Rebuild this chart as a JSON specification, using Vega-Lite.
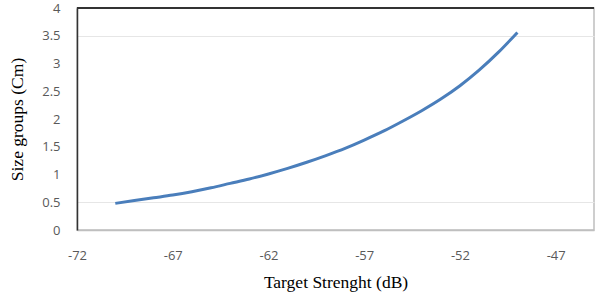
{
  "$schema": "https://vega.github.io/schema/vega-lite/v6.json",
  "width": 517,
  "height": 222,
  "autosize": {"type": "none"},
  "padding": {"left": 77, "top": 8, "right": 6, "bottom": 67},
  "background": "white",
  "config": {
    "view": {"stroke": "#bfbfbf", "strokeWidth": 1.5}
  },
  "data": {
    "values": [
      {"ts": -70, "size": 0.48},
      {"ts": -69, "size": 0.53},
      {"ts": -68, "size": 0.58},
      {"ts": -67, "size": 0.63},
      {"ts": -66, "size": 0.69},
      {"ts": -65, "size": 0.76},
      {"ts": -64, "size": 0.84},
      {"ts": -63, "size": 0.92},
      {"ts": -62, "size": 1.01},
      {"ts": -61, "size": 1.11},
      {"ts": -60, "size": 1.22},
      {"ts": -59, "size": 1.34},
      {"ts": -58, "size": 1.47},
      {"ts": -57, "size": 1.62},
      {"ts": -56, "size": 1.78},
      {"ts": -55, "size": 1.96},
      {"ts": -54, "size": 2.15},
      {"ts": -53, "size": 2.36},
      {"ts": -52, "size": 2.60},
      {"ts": -51, "size": 2.88},
      {"ts": -50, "size": 3.20},
      {"ts": -49, "size": 3.56}
    ]
  },
  "layer": [
    {
      "mark": {"type": "line", "color": "#4a7ebb", "strokeWidth": 3, "interpolate": "monotone"},
      "encoding": {
        "x": {
          "field": "ts", "type": "quantitative",
          "scale": {"domain": [-72, -45], "nice": false, "zero": false},
          "axis": {"title": "Target Strenght (dB)", "values": [-72, -67, -62, -57, -52, -47], "labelExpr": "toString(datum.value)", "domainColor": "#bfbfbf", "domainWidth": 1.5, "labelPadding": 19, "titlePadding": 11, "labelFlush": false, "grid": false, "ticks": false, "labelOverlap": false, "labelFont": "Open Sans", "labelFontSize": 13, "labelColor": "#595959", "titleFont": "Liberation Serif", "titleFontSize": 17.5, "titleFontWeight": "normal", "titleColor": "#000000"}
        },
        "y": {
          "field": "size", "type": "quantitative",
          "scale": {"domain": [0, 4], "nice": false},
          "axis": {"title": "Size groups (Cm)", "values": [0, 0.5, 1, 1.5, 2, 2.5, 3, 3.5, 4], "format": "~g", "domainColor": "#333333", "domainWidth": 1.5, "labelPadding": 17, "titlePadding": 15, "grid": true, "gridColor": {"condition": {"test": "datum.value == 0.5 || datum.value == 3.5", "value": "#e6e6e6"}, "value": "transparent"}, "ticks": false, "labelOverlap": false, "labelFont": "Open Sans", "labelFontSize": 13, "labelColor": "#595959", "titleFont": "Liberation Serif", "titleFontSize": 17.5, "titleFontWeight": "normal", "titleColor": "#000000"}
        }
      }
    },
    {
      "mark": {"type": "rule", "color": "#333333", "strokeWidth": 1.5},
      "encoding": {
        "y": {
          "datum": 4, "type": "quantitative",
          "axis": {"title": "Size groups (Cm)", "values": [0, 0.5, 1, 1.5, 2, 2.5, 3, 3.5, 4], "format": "~g", "domainColor": "#333333", "domainWidth": 1.5, "labelPadding": 17, "titlePadding": 15, "grid": true, "gridColor": {"condition": {"test": "datum.value == 0.5 || datum.value == 3.5", "value": "#e6e6e6"}, "value": "transparent"}, "ticks": false, "labelOverlap": false, "labelFont": "Open Sans", "labelFontSize": 13, "labelColor": "#595959", "titleFont": "Liberation Serif", "titleFontSize": 17.5, "titleFontWeight": "normal", "titleColor": "#000000"}
        }
      }
    }
  ]
}
